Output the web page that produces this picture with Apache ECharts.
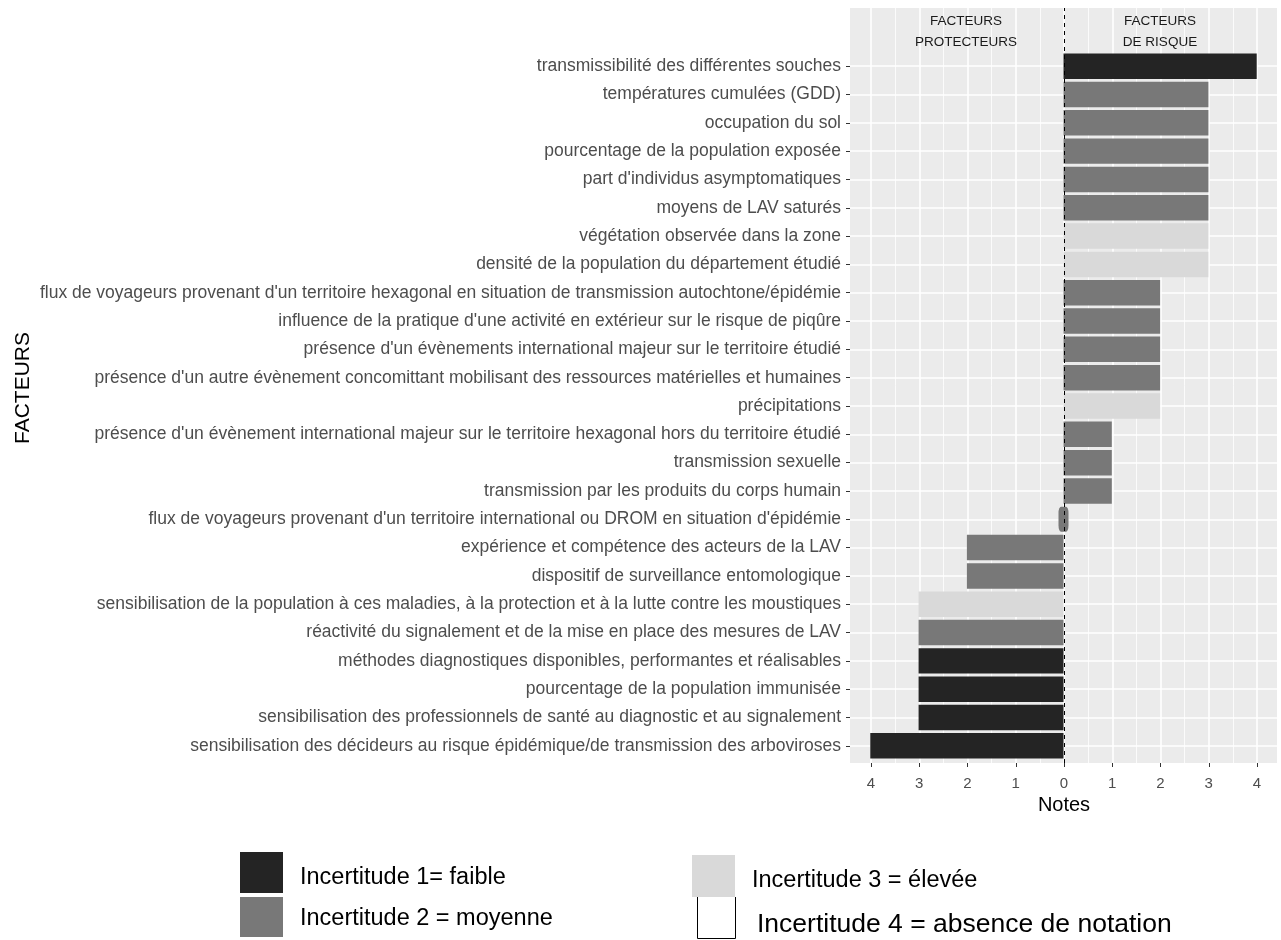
<!DOCTYPE html>
<html>
<head>
<meta charset="utf-8">
<script src="https://cdn.jsdelivr.net/npm/echarts@6/dist/echarts.min.js"></script>
<style>
html,body{margin:0;padding:0;background:#fff;}
#chart{width:1281px;height:940px;}
</style>
</head>
<body>
<div id="chart"></div>
<script>
// ---- DATA (top to bottom, as displayed) ----
const categories = [
  "transmissibilité des différentes souches",
  "températures cumulées (GDD)",
  "occupation du sol",
  "pourcentage de la population exposée",
  "part d'individus asymptomatiques",
  "moyens de LAV saturés",
  "végétation observée dans la zone",
  "densité de la population du département étudié",
  "flux de voyageurs provenant d'un territoire hexagonal en situation de transmission autochtone/épidémie",
  "influence de la pratique d'une activité en extérieur sur le risque de piqûre",
  "présence d'un évènements international majeur sur le territoire étudié",
  "présence d'un autre évènement concomittant mobilisant des ressources matérielles et humaines",
  "précipitations",
  "présence d'un évènement international majeur sur le territoire hexagonal hors du territoire étudié",
  "transmission sexuelle",
  "transmission par les produits du corps humain",
  "flux de voyageurs provenant d'un territoire international ou DROM en situation d'épidémie",
  "expérience et compétence des acteurs de la LAV",
  "dispositif de surveillance entomologique",
  "sensibilisation de la population à ces maladies, à la protection et à la lutte contre les moustiques",
  "réactivité du signalement et de la mise en place des mesures de LAV",
  "méthodes diagnostiques disponibles, performantes et réalisables",
  "pourcentage de la population immunisée",
  "sensibilisation des professionnels de santé au diagnostic et au signalement",
  "sensibilisation des décideurs au risque épidémique/de transmission des arboviroses"
];
// Notes (negative = protective factors, positive = risk factors)
const notes = [4, 3, 3, 3, 3, 3, 3, 3, 2, 2, 2, 2, 2, 1, 1, 1, 0, -2, -2, -3, -3, -3, -3, -3, -4];
// Uncertainty level (1 = faible, 2 = moyenne, 3 = élevée)
const incertitude = [1, 2, 2, 2, 2, 2, 3, 3, 2, 2, 2, 2, 3, 2, 2, 2, 2, 2, 2, 3, 2, 1, 1, 1, 1];
const xTickValues = [-4, -3, -2, -1, 0, 1, 2, 3, 4];
const legendLabels = ["Incertitude 1= faible", "Incertitude 2 = moyenne", "Incertitude 3 = élevée", "Incertitude 4 = absence de notation"];
const headerLabels = ["FACTEURS\nPROTECTEURS", "FACTEURS\nDE RISQUE"];

// ---- STYLE ----
const levelColors = {1: '#242424', 2: '#787878', 3: '#d9d9d9', 4: '#ffffff'};
const FONT = 'Liberation Sans, Arial, sans-serif';

const barData = notes.map((v, i) => ({value: v, itemStyle: {color: levelColors[incertitude[i]]}}));
const zeroMarks = notes.map((v, i) => v === 0 ? {
  coord: [0, categories[i]],
  itemStyle: {color: levelColors[incertitude[i]]}
} : null).filter(Boolean);
const rowLines = categories.map(c => ({yAxis: c}));

const chart = echarts.init(document.getElementById('chart'), null, {renderer: 'canvas'});

const option = {
  animation: false,
  backgroundColor: '#ffffff',
  textStyle: {fontFamily: FONT},
  grid: [
    // 0: bars
    {left: 850, right: 4, top: 52, bottom: 180, containLabel: false},
    // 1: vertical grid lines + x axis
    {left: 871, right: 24, top: 8, bottom: 177, containLabel: false},
    // 2: panel background
    {left: 850, right: 4, top: 8, bottom: 177, show: true, backgroundColor: '#ebebeb', borderWidth: 0}
  ],
  xAxis: [
    {gridIndex: 0, type: 'value', min: -4.42, max: 4.42, show: false},
    {
      gridIndex: 1, type: 'value', min: xTickValues[0], max: xTickValues[xTickValues.length - 1], interval: 1,
      axisLine: {show: false},
      axisTick: {show: true, length: 4, lineStyle: {color: '#333333', width: 1}},
      axisLabel: {
        color: '#4d4d4d', fontSize: 15, margin: 13, fontFamily: FONT,
        formatter: v => String(Math.abs(v))
      },
      splitLine: {show: true, lineStyle: {color: '#ffffff', width: 1.6}},
      minorTick: {show: false, splitNumber: 2},
      minorSplitLine: {show: true, lineStyle: {color: '#ffffff', width: 0.8}},
      name: 'Notes', nameLocation: 'middle', nameGap: 31,
      nameTextStyle: {color: '#000000', fontSize: 20, fontFamily: FONT}
    },
    {gridIndex: 2, type: 'value', min: 0, max: 1, show: false}
  ],
  yAxis: [
    {
      gridIndex: 0, type: 'category', inverse: true, data: categories,
      position: 'left',
      axisLine: {show: false, onZero: false},
      axisTick: {show: true, length: 4, alignWithLabel: true, lineStyle: {color: '#333333', width: 1}},
      axisLabel: {color: '#4d4d4d', fontSize: 17.5, margin: 9, fontFamily: FONT, padding: [5, 0, 0, 0]},
      splitLine: {show: false}
    },
    {gridIndex: 1, type: 'value', min: 0, max: 1, show: false},
    {gridIndex: 2, type: 'value', min: 0, max: 1, show: false}
  ],
  series: [
    {
      type: 'bar', xAxisIndex: 0, yAxisIndex: 0,
      data: barData,
      barCategoryGap: '10%',
      z: 2,
      markPoint: {
        symbol: 'roundRect', symbolSize: [10, 25], silent: true,
        label: {show: false},
        data: zeroMarks
      }
    },
    {
      // horizontal grid lines at category centres (behind the bars)
      type: 'scatter', xAxisIndex: 0, yAxisIndex: 0, data: [], z: 1,
      markLine: {
        silent: true, symbol: ['none', 'none'], z: 1,
        label: {show: false},
        lineStyle: {color: '#ffffff', width: 1.6, type: 'solid'},
        emphasis: {disabled: true},
        data: rowLines
      }
    },
    {
      type: 'scatter', xAxisIndex: 1, yAxisIndex: 1, data: [], z: 10,
      markLine: {
        silent: true, symbol: ['none', 'none'], z: 10,
        label: {show: false},
        lineStyle: {color: '#000000', width: 1, type: [4, 4]},
        data: [{xAxis: 0}]
      }
    }
  ],
  graphic: [
    {type: 'text', x: 966, y: 32, style: {text: headerLabels[0], fill: '#1a1a1a', font: '13.5px ' + FONT, align: 'center', verticalAlign: 'middle', lineHeight: 21}, z: 20},
    {type: 'text', x: 1160, y: 32, style: {text: headerLabels[1], fill: '#1a1a1a', font: '13.5px ' + FONT, align: 'center', verticalAlign: 'middle', lineHeight: 21}, z: 20},
    {type: 'text', x: 23, y: 388, rotation: Math.PI / 2, style: {text: 'FACTEURS', fill: '#000000', font: '21px ' + FONT, align: 'center', verticalAlign: 'middle'}},
    // legend
    {type: 'rect', shape: {x: 240, y: 852, width: 43, height: 41}, style: {fill: levelColors[1]}},
    {type: 'rect', shape: {x: 240, y: 897, width: 43, height: 40}, style: {fill: levelColors[2]}},
    {type: 'rect', shape: {x: 692, y: 855, width: 43, height: 42}, style: {fill: levelColors[3]}},
    {type: 'polyline', shape: {points: [[697.5, 897], [697.5, 938.5], [735.5, 938.5], [735.5, 897]]}, style: {stroke: '#000000', lineWidth: 1, fill: null}},
    {type: 'text', x: 300, y: 878, style: {text: legendLabels[0], fill: '#000000', font: '23.5px ' + FONT, verticalAlign: 'middle'}},
    {type: 'text', x: 300, y: 919, style: {text: legendLabels[1], fill: '#000000', font: '23.5px ' + FONT, verticalAlign: 'middle'}},
    {type: 'text', x: 752, y: 881, style: {text: legendLabels[2], fill: '#000000', font: '23.5px ' + FONT, verticalAlign: 'middle'}},
    {type: 'text', x: 757, y: 925, style: {text: legendLabels[3], fill: '#000000', font: '26.5px ' + FONT, verticalAlign: 'middle'}}
  ]
};
chart.setOption(option);
</script>
</body>
</html>
